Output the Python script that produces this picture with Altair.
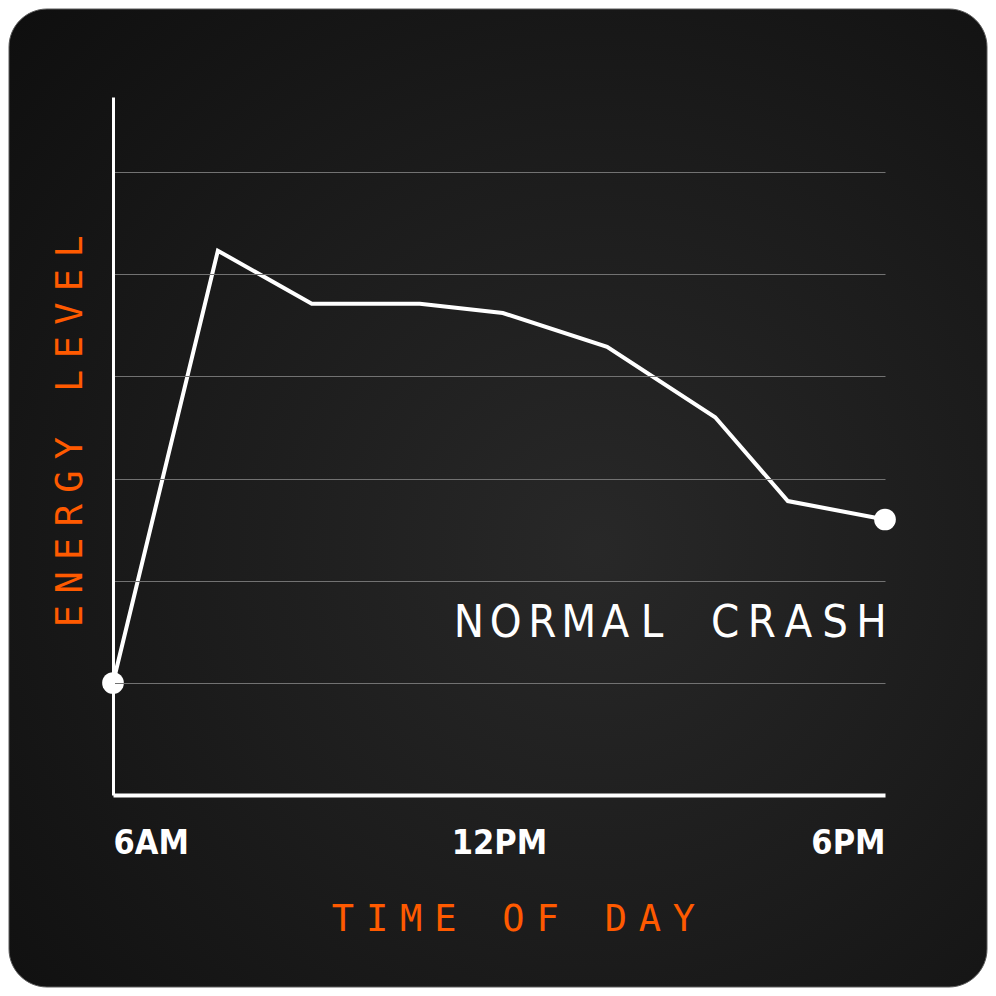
import altair as alt
import pandas as pd

# energy curve (hour of day, level)
hours = [6, 7.63, 9.09, 10.77, 12.06, 13.68, 15.36, 16.49, 18]
energy = [10, 52.3, 47.1, 47.1, 46.2, 42.9, 36.0, 27.8, 26.0]

tick_hours = [6, 12, 18]
tick_labels = ['6AM', '12PM', '6PM']
grid_levels = [10, 20, 30, 40, 50, 60]

x_title = 'TIME OF DAY'
y_title = 'ENERGY LEVEL'
note = 'NORMAL CRASH'

W, H = 772, 698
PAD = {'left': 105, 'top': 89, 'right': 103, 'bottom': 193}
ORANGE = '#ff5a00'
MONO = 'DejaVu Sans Mono'
NARROW = 'Liberation Sans Narrow, DejaVu Sans Condensed, Roboto, sans-serif'


def letters(text):
    """One row per character, so the wide letter spacing can be kept."""
    return pd.DataFrame({'ch': list(text), 'i': range(len(text))})


curve = pd.DataFrame({'hour': hours, 'energy': energy})
ends = curve.iloc[[0, -1]]

label_expr = ' : '.join(
    f"datum.value == {h} ? '{l}'" for h, l in zip(tick_hours, tick_labels)
) + " : ''"

x_scale = alt.Scale(domain=[6, 18], nice=False)
y_scale = alt.Scale(domain=[-0.96, 67.34], nice=False)

# dark rounded card behind everything
card = alt.Chart(pd.DataFrame({'k': [0]})).mark_rect(
    cornerRadius=38,
    stroke='#5a5a5a',
    strokeWidth=1,
    fill=alt.Gradient(
        gradient='radial',
        stops=[alt.GradientStop(color='#282828', offset=0),
               alt.GradientStop(color='#1c1c1c', offset=0.5),
               alt.GradientStop(color='#0f0f0f', offset=1)],
        x1=0.6, y1=0.55, x2=0.6, y2=0.55, r1=0, r2=0.8
    )
).encode(
    x=alt.value(-PAD['left'] + 1),
    x2=alt.value(W + PAD['right'] - 1),
    y=alt.value(-PAD['top'] + 1),
    y2=alt.value(H + PAD['bottom'] - 1)
)

x_axis = alt.Axis(values=tick_hours, labelExpr=label_expr, labelFlush=True,
                  grid=False, ticks=False, tickSize=0, labelPadding=58,
                  labelBaseline='alphabetic', labelColor='white',
                  labelFont=NARROW, labelFontSize=34, labelFontWeight='bold',
                  domainColor='white', domainWidth=4, title=None, zindex=1)

y_axis = alt.Axis(values=grid_levels, labels=False, ticks=False, tickSize=0,
                  domainColor='white', domainWidth=3, grid=True,
                  gridColor='#727272', gridWidth=1, title=None, zindex=1)

line = alt.Chart(curve).mark_line(color='white', strokeWidth=4).encode(
    x=alt.X('hour:Q', scale=x_scale, axis=x_axis),
    y=alt.Y('energy:Q', scale=y_scale, axis=y_axis)
)

dots = alt.Chart(ends).mark_circle(size=470, color='white', opacity=1).encode(
    x=alt.X('hour:Q', scale=x_scale),
    y=alt.Y('energy:Q', scale=y_scale)
)

x_letters = alt.Chart(letters(x_title)).mark_text(
    font=MONO, fontSize=37, color=ORANGE, baseline='alphabetic', align='center'
).transform_calculate(
    px='230 + datum.i * 34.1'
).encode(
    x=alt.X('px:Q', scale=None, axis=None),
    y=alt.value(834),
    text='ch:N'
)

y_letters = alt.Chart(letters(y_title)).mark_text(
    font=MONO, fontSize=37, color=ORANGE, baseline='alphabetic', align='center',
    angle=270
).transform_calculate(
    py='519 - datum.i * 33.6'
).encode(
    x=alt.value(-31),
    y=alt.Y('py:Q', scale=None, axis=None),
    text='ch:N'
)

note_letters = alt.Chart(letters(note)).mark_text(
    font=NARROW, fontSize=45, color='white', baseline='alphabetic', align='center'
).transform_calculate(
    px='356 + datum.i * 36.6'
).encode(
    x=alt.X('px:Q', scale=None, axis=None),
    y=alt.value(540),
    text='ch:N'
)

chart = alt.layer(
    card, line, dots, x_letters, y_letters, note_letters
).properties(
    width=W,
    height=H,
    padding=PAD,
    autosize=alt.AutoSizeParams(type='none'),
    background='white'
).configure_view(
    strokeWidth=0
)

chart.save("out.html", embed_options={"renderer": "svg", "actions": False})
